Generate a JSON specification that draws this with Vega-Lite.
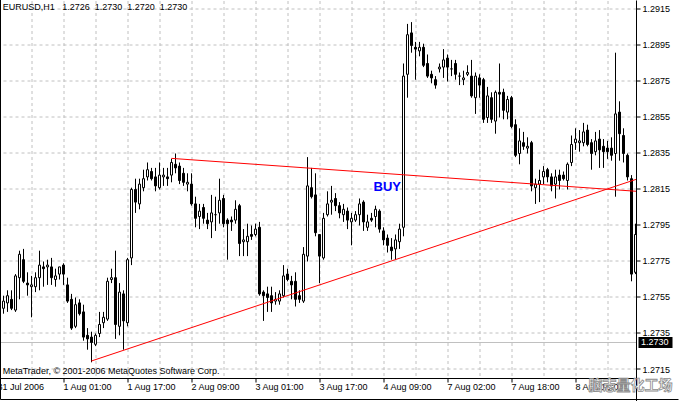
{
  "$schema": "https://vega.github.io/schema/vega-lite/v6.json",
  "width": 635.5,
  "height": 377.5,
  "autosize": {"type": "none"},
  "padding": {"left": 1, "top": 1, "right": 42.5, "bottom": 22.5},
  "background": "white",
  "config": {
    "view": {"stroke": null},
    "font": "Liberation Sans",
    "axis": {
      "labelFont": "Liberation Sans",
      "labelFontSize": 9,
      "labelColor": "black",
      "labelOverlap": false,
      "domainColor": "black",
      "domainWidth": 1,
      "tickColor": "black",
      "tickWidth": 1,
      "gridColor": "#C0C0C0",
      "gridDash": [3, 3],
      "gridOpacity": 1,
      "translate": 0,
      "title": null
    }
  },
  "data": {
    "values": [
      {"i":-15,"o":1.2749,"h":1.2756,"l":1.2746,"c":1.2753},
      {"i":-14,"o":1.2752,"h":1.2759,"l":1.2747,"c":1.2756},
      {"i":-13,"o":1.2754,"h":1.2759,"l":1.2748,"c":1.2749},
      {"i":-12,"o":1.2748,"h":1.2768,"l":1.2747,"c":1.2767},
      {"i":-11,"o":1.2766,"h":1.2781,"l":1.2754,"c":1.2779},
      {"i":-10,"o":1.2776,"h":1.2782,"l":1.2763,"c":1.2764},
      {"i":-9,"o":1.2763,"h":1.2769,"l":1.2756,"c":1.2762},
      {"i":-8,"o":1.2761,"h":1.2767,"l":1.2744,"c":1.2762},
      {"i":-7,"o":1.2761,"h":1.2769,"l":1.2758,"c":1.2766},
      {"i":-6,"o":1.2766,"h":1.2781,"l":1.2759,"c":1.2773},
      {"i":-5,"o":1.2772,"h":1.2775,"l":1.2761,"c":1.2771},
      {"i":-4,"o":1.2772,"h":1.2776,"l":1.2762,"c":1.2773},
      {"i":-3,"o":1.2772,"h":1.2777,"l":1.2762,"c":1.2766},
      {"i":-2,"o":1.2765,"h":1.2771,"l":1.2761,"c":1.2767},
      {"i":-1,"o":1.2768,"h":1.2772,"l":1.2765,"c":1.2772},
      {"i":0,"o":1.2773,"h":1.2774,"l":1.2762,"c":1.2768},
      {"i":1,"o":1.2762,"h":1.2766,"l":1.2752,"c":1.2753},
      {"i":2,"o":1.2754,"h":1.2757,"l":1.2737,"c":1.2738},
      {"i":3,"o":1.2739,"h":1.2755,"l":1.2738,"c":1.2751},
      {"i":4,"o":1.2752,"h":1.2754,"l":1.2745,"c":1.2746},
      {"i":5,"o":1.2747,"h":1.2751,"l":1.2731,"c":1.2733},
      {"i":6,"o":1.2734,"h":1.2738,"l":1.2726,"c":1.2732},
      {"i":7,"o":1.2733,"h":1.2736,"l":1.2719,"c":1.2730},
      {"i":8,"o":1.2729,"h":1.2735,"l":1.2728,"c":1.2734},
      {"i":9,"o":1.2735,"h":1.2747,"l":1.2733,"c":1.2740},
      {"i":10,"o":1.2741,"h":1.2747,"l":1.2738,"c":1.2744},
      {"i":11,"o":1.2743,"h":1.2766,"l":1.2742,"c":1.2764},
      {"i":12,"o":1.2765,"h":1.2771,"l":1.2763,"c":1.2766},
      {"i":13,"o":1.2766,"h":1.2781,"l":1.2732,"c":1.2740},
      {"i":14,"o":1.2739,"h":1.2763,"l":1.2734,"c":1.2758},
      {"i":15,"o":1.2757,"h":1.2759,"l":1.2726,"c":1.2742},
      {"i":16,"o":1.2741,"h":1.2777,"l":1.2739,"c":1.2776},
      {"i":17,"o":1.2777,"h":1.2816,"l":1.2773,"c":1.2815},
      {"i":18,"o":1.2815,"h":1.2821,"l":1.2802,"c":1.2808},
      {"i":19,"o":1.2807,"h":1.2821,"l":1.2804,"c":1.2818},
      {"i":20,"o":1.2816,"h":1.2826,"l":1.2814,"c":1.2821},
      {"i":21,"o":1.2822,"h":1.2830,"l":1.2820,"c":1.2826},
      {"i":22,"o":1.2825,"h":1.2827,"l":1.2820,"c":1.2821},
      {"i":23,"o":1.2822,"h":1.2827,"l":1.2814,"c":1.2817},
      {"i":24,"o":1.2816,"h":1.2830,"l":1.2815,"c":1.2823},
      {"i":25,"o":1.2822,"h":1.2827,"l":1.2817,"c":1.2823},
      {"i":26,"o":1.2822,"h":1.2827,"l":1.2817,"c":1.2821},
      {"i":27,"o":1.2823,"h":1.2832,"l":1.2819,"c":1.2830},
      {"i":28,"o":1.2829,"h":1.2835,"l":1.2824,"c":1.2827},
      {"i":29,"o":1.2828,"h":1.2830,"l":1.2818,"c":1.2820},
      {"i":30,"o":1.2824,"h":1.2827,"l":1.2817,"c":1.2819},
      {"i":31,"o":1.2818,"h":1.2824,"l":1.2814,"c":1.2819},
      {"i":32,"o":1.2818,"h":1.2824,"l":1.2806,"c":1.2807},
      {"i":33,"o":1.2807,"h":1.2811,"l":1.2794,"c":1.2799},
      {"i":34,"o":1.2800,"h":1.2807,"l":1.2793,"c":1.2803},
      {"i":35,"o":1.2805,"h":1.2807,"l":1.2796,"c":1.2799},
      {"i":36,"o":1.2798,"h":1.2802,"l":1.2793,"c":1.2796},
      {"i":37,"o":1.2797,"h":1.2812,"l":1.2788,"c":1.2802},
      {"i":38,"o":1.2801,"h":1.2811,"l":1.2792,"c":1.2801},
      {"i":39,"o":1.2802,"h":1.2821,"l":1.2796,"c":1.2809},
      {"i":40,"o":1.2810,"h":1.2812,"l":1.2794,"c":1.2796},
      {"i":41,"o":1.2798,"h":1.2799,"l":1.2776,"c":1.2796},
      {"i":42,"o":1.2798,"h":1.2800,"l":1.2792,"c":1.2797},
      {"i":43,"o":1.2798,"h":1.2809,"l":1.2796,"c":1.2804},
      {"i":44,"o":1.2806,"h":1.2807,"l":1.2778,"c":1.2785},
      {"i":45,"o":1.2786,"h":1.2793,"l":1.2778,"c":1.2787},
      {"i":46,"o":1.2786,"h":1.2796,"l":1.2778,"c":1.2789},
      {"i":47,"o":1.2790,"h":1.2795,"l":1.2787,"c":1.2789},
      {"i":48,"o":1.2790,"h":1.2796,"l":1.2789,"c":1.2793},
      {"i":49,"o":1.2794,"h":1.2797,"l":1.2756,"c":1.2757},
      {"i":50,"o":1.2758,"h":1.2759,"l":1.2742,"c":1.2756},
      {"i":51,"o":1.2757,"h":1.2761,"l":1.2747,"c":1.2755},
      {"i":52,"o":1.2756,"h":1.2761,"l":1.2747,"c":1.2752},
      {"i":53,"o":1.2753,"h":1.2758,"l":1.2751,"c":1.2754},
      {"i":54,"o":1.2753,"h":1.2759,"l":1.2751,"c":1.2757},
      {"i":55,"o":1.2756,"h":1.2773,"l":1.2755,"c":1.2767},
      {"i":56,"o":1.2768,"h":1.2771,"l":1.2764,"c":1.2765},
      {"i":57,"o":1.2764,"h":1.2767,"l":1.2754,"c":1.2762},
      {"i":58,"o":1.2764,"h":1.2769,"l":1.2750,"c":1.2754},
      {"i":59,"o":1.2756,"h":1.2759,"l":1.2752,"c":1.2754},
      {"i":60,"o":1.2753,"h":1.2783,"l":1.2752,"c":1.2779},
      {"i":61,"o":1.2778,"h":1.2833,"l":1.2775,"c":1.2817},
      {"i":62,"o":1.2816,"h":1.2827,"l":1.2810,"c":1.2811},
      {"i":63,"o":1.2812,"h":1.2824,"l":1.2789,"c":1.2791},
      {"i":64,"o":1.2790,"h":1.2790,"l":1.2763,"c":1.2778},
      {"i":65,"o":1.2777,"h":1.2802,"l":1.2776,"c":1.2799},
      {"i":66,"o":1.2801,"h":1.2814,"l":1.2800,"c":1.2807},
      {"i":67,"o":1.2808,"h":1.2817,"l":1.2801,"c":1.2809},
      {"i":68,"o":1.2810,"h":1.2813,"l":1.2803,"c":1.2806},
      {"i":69,"o":1.2806,"h":1.2808,"l":1.2799,"c":1.2802},
      {"i":70,"o":1.2801,"h":1.2807,"l":1.2797,"c":1.2804},
      {"i":71,"o":1.2803,"h":1.2805,"l":1.2793,"c":1.2798},
      {"i":72,"o":1.2797,"h":1.2802,"l":1.2784,"c":1.2799},
      {"i":73,"o":1.2798,"h":1.2803,"l":1.2797,"c":1.2801},
      {"i":74,"o":1.2801,"h":1.2810,"l":1.2795,"c":1.2807},
      {"i":75,"o":1.2808,"h":1.2809,"l":1.2792,"c":1.2797},
      {"i":76,"o":1.2794,"h":1.2801,"l":1.2792,"c":1.2797},
      {"i":77,"o":1.2799,"h":1.2802,"l":1.2797,"c":1.2798},
      {"i":78,"o":1.2800,"h":1.2806,"l":1.2794,"c":1.2804},
      {"i":79,"o":1.2803,"h":1.2804,"l":1.2791,"c":1.2793},
      {"i":80,"o":1.2792,"h":1.2794,"l":1.2784,"c":1.2787},
      {"i":81,"o":1.2788,"h":1.2790,"l":1.2780,"c":1.2784},
      {"i":82,"o":1.2783,"h":1.2788,"l":1.2776,"c":1.2781},
      {"i":83,"o":1.2782,"h":1.2790,"l":1.2776,"c":1.2787},
      {"i":84,"o":1.2786,"h":1.2796,"l":1.2782,"c":1.2793},
      {"i":85,"o":1.2794,"h":1.2885,"l":1.2789,"c":1.2878},
      {"i":86,"o":1.2879,"h":1.2907,"l":1.2866,"c":1.2901},
      {"i":87,"o":1.2902,"h":1.2908,"l":1.2891,"c":1.2895},
      {"i":88,"o":1.2894,"h":1.2897,"l":1.2876,"c":1.2893},
      {"i":89,"o":1.2892,"h":1.2897,"l":1.2889,"c":1.2894},
      {"i":90,"o":1.2894,"h":1.2896,"l":1.2883,"c":1.2884},
      {"i":91,"o":1.2885,"h":1.2890,"l":1.2877,"c":1.2878},
      {"i":92,"o":1.2879,"h":1.2881,"l":1.2874,"c":1.2877},
      {"i":93,"o":1.2876,"h":1.2878,"l":1.2871,"c":1.2873},
      {"i":94,"o":1.2882,"h":1.2885,"l":1.2880,"c":1.2883},
      {"i":95,"o":1.2883,"h":1.2893,"l":1.2877,"c":1.2887},
      {"i":96,"o":1.2888,"h":1.2890,"l":1.2875,"c":1.2883},
      {"i":97,"o":1.2882,"h":1.2887,"l":1.2878,"c":1.2882},
      {"i":98,"o":1.2885,"h":1.2887,"l":1.2876,"c":1.2879},
      {"i":99,"o":1.2878,"h":1.2880,"l":1.2873,"c":1.2878},
      {"i":100,"o":1.2876,"h":1.2881,"l":1.2873,"c":1.2877},
      {"i":101,"o":1.2879,"h":1.2884,"l":1.2878,"c":1.2880},
      {"i":102,"o":1.2878,"h":1.2887,"l":1.2866,"c":1.2867},
      {"i":103,"o":1.2866,"h":1.2880,"l":1.2857,"c":1.2878},
      {"i":104,"o":1.2877,"h":1.2879,"l":1.2866,"c":1.2873},
      {"i":105,"o":1.2876,"h":1.2877,"l":1.2852,"c":1.2854},
      {"i":106,"o":1.2855,"h":1.2872,"l":1.2852,"c":1.2867},
      {"i":107,"o":1.2866,"h":1.2869,"l":1.2852,"c":1.2854},
      {"i":108,"o":1.2853,"h":1.2870,"l":1.2846,"c":1.2869},
      {"i":109,"o":1.2869,"h":1.2885,"l":1.2855,"c":1.2868},
      {"i":110,"o":1.2869,"h":1.2871,"l":1.2854,"c":1.2859},
      {"i":111,"o":1.2858,"h":1.2867,"l":1.2854,"c":1.2865},
      {"i":112,"o":1.2866,"h":1.2867,"l":1.2849,"c":1.2850},
      {"i":113,"o":1.2851,"h":1.2854,"l":1.2833,"c":1.2834},
      {"i":114,"o":1.2835,"h":1.2849,"l":1.2829,"c":1.2842},
      {"i":115,"o":1.2841,"h":1.2847,"l":1.2837,"c":1.2839},
      {"i":116,"o":1.2838,"h":1.2844,"l":1.2835,"c":1.2839},
      {"i":117,"o":1.2841,"h":1.2842,"l":1.2814,"c":1.2817},
      {"i":118,"o":1.2816,"h":1.2821,"l":1.2807,"c":1.2818},
      {"i":119,"o":1.2818,"h":1.2826,"l":1.2808,"c":1.2820},
      {"i":120,"o":1.2822,"h":1.2828,"l":1.2818,"c":1.2825},
      {"i":121,"o":1.2826,"h":1.2827,"l":1.2819,"c":1.2822},
      {"i":122,"o":1.2822,"h":1.2824,"l":1.2814,"c":1.2817},
      {"i":123,"o":1.2818,"h":1.2826,"l":1.2810,"c":1.2822},
      {"i":124,"o":1.2823,"h":1.2826,"l":1.2815,"c":1.2820},
      {"i":125,"o":1.2823,"h":1.2825,"l":1.2820,"c":1.2821},
      {"i":126,"o":1.2820,"h":1.2830,"l":1.2815,"c":1.2829},
      {"i":127,"o":1.2830,"h":1.2845,"l":1.2828,"c":1.2840},
      {"i":128,"o":1.2841,"h":1.2849,"l":1.2837,"c":1.2843},
      {"i":129,"o":1.2841,"h":1.2848,"l":1.2836,"c":1.2842},
      {"i":130,"o":1.2841,"h":1.2852,"l":1.2839,"c":1.2847},
      {"i":131,"o":1.2848,"h":1.2851,"l":1.2839,"c":1.2840},
      {"i":132,"o":1.2841,"h":1.2843,"l":1.2826,"c":1.2835},
      {"i":133,"o":1.2836,"h":1.2847,"l":1.2834,"c":1.2842},
      {"i":134,"o":1.2843,"h":1.2848,"l":1.2827,"c":1.2837},
      {"i":135,"o":1.2839,"h":1.2843,"l":1.2827,"c":1.2836},
      {"i":136,"o":1.2838,"h":1.2842,"l":1.2832,"c":1.2836},
      {"i":137,"o":1.2838,"h":1.2844,"l":1.2831,"c":1.2834},
      {"i":138,"o":1.2835,"h":1.2891,"l":1.2811,"c":1.2857},
      {"i":139,"o":1.2858,"h":1.2864,"l":1.2831,"c":1.2846},
      {"i":140,"o":1.2845,"h":1.2849,"l":1.2830,"c":1.2835},
      {"i":141,"o":1.2834,"h":1.2835,"l":1.2820,"c":1.2822},
      {"i":142,"o":1.2821,"h":1.2823,"l":1.2764,"c":1.2768},
      {"i":143,"o":1.2769,"h":1.2796,"l":1.2768,"c":1.2790}
    ]
  },
  "layer": [
    {
      "data": {"values": [{"bid": 1.2730}]},
      "mark": {"type": "rule", "color": "#C0C0C0", "strokeWidth": 1},
      "encoding": {
        "y": {
          "field": "bid", "type": "quantitative",
          "scale": {"domain": [1.2710, 1.2919722], "nice": false, "zero": false, "padding": 0},
          "axis": {
            "orient": "right",
            "values": [1.2715, 1.2735, 1.2755, 1.2775, 1.2795, 1.2815, 1.2835, 1.2855, 1.2875, 1.2895, 1.2915],
            "tickCount": 100,
            "format": ".4f",
            "grid": true,
            "tickSize": 4,
            "labelPadding": 2,
            "labelAlign": "left",
            "labelBaseline": "middle",
            "labelOverlap": false,
            "labelBound": false,
            "labelFlush": false
          }
        }
      }
    },
    {
      "mark": {"type": "rule", "color": "black", "strokeWidth": 1},
      "encoding": {
        "x": {
          "field": "i", "type": "quantitative",
          "scale": {"domain": [-15.625, 143.25], "nice": false, "zero": false, "padding": 0},
          "axis": {
            "orient": "bottom",
            "values": [-15.625, -8, 0, 8, 16, 24, 32, 40, 48, 56, 64, 72, 80, 88, 96, 104, 112, 120, 128, 136],
            "tickCount": 100,
            "grid": true,
            "gridOpacity": {"condition": {"test": "datum.value < -15", "value": 0}, "value": 1},
            "labelExpr": "datum.value < -15 ? '31 Jul 2006' : datum.value == 0 ? '1 Aug 01:00' : datum.value == 16 ? '1 Aug 17:00' : datum.value == 32 ? '2 Aug 09:00' : datum.value == 48 ? '3 Aug 01:00' : datum.value == 64 ? '3 Aug 17:00' : datum.value == 80 ? '4 Aug 09:00' : datum.value == 96 ? '7 Aug 02:00' : datum.value == 112 ? '7 Aug 18:00' : datum.value == 128 ? '8 Aug 10:00' : ''",
            "labelAlign": "left",
            "labelBaseline": "top",
            "labelPadding": 0,
            "labelOffset": {"condition": {"test": "datum.value < -15", "value": -3.5}, "value": 0},
            "tickSize": 4,
            "tickOpacity": {"condition": {"test": "datum.value % 16 == 0", "value": 1}, "value": 0},
            "labelOverlap": false,
            "labelBound": false,
            "labelFlush": false
          }
        },
        "y": {"field": "l", "type": "quantitative"},
        "y2": {"field": "h"}
      }
    },
    {
      "mark": {"type": "bar", "orient": "vertical", "width": 2, "stroke": "black", "strokeWidth": 1},
      "encoding": {
        "x": {"field": "i", "type": "quantitative"},
        "y": {"field": "o", "type": "quantitative"},
        "y2": {"field": "c"},
        "fill": {"condition": {"test": "datum.c < datum.o", "value": "black"}, "value": "white"}
      }
    },
    {
      "data": {"values": [
        {"line": "upper", "i": 26.95, "p": 1.28323},
        {"line": "upper", "i": 143.25, "p": 1.28140},
        {"line": "lower", "i": 6.95, "p": 1.27197},
        {"line": "lower", "i": 143.25, "p": 1.28207}
      ]},
      "mark": {"type": "line", "color": "#FF0000", "strokeWidth": 1},
      "encoding": {
        "x": {"field": "i", "type": "quantitative"},
        "y": {"field": "p", "type": "quantitative"},
        "detail": {"field": "line"}
      }
    },
    {
      "data": {"values": [{"label": "BUY", "i": 80.95, "p": 1.281417}]},
      "mark": {"type": "text", "align": "center", "baseline": "alphabetic", "font": "Liberation Sans", "fontSize": 13, "fontWeight": "bold", "color": "#0000FF"},
      "encoding": {
        "x": {"field": "i", "type": "quantitative"},
        "y": {"field": "p", "type": "quantitative"},
        "text": {"field": "label"}
      }
    },
    {
      "data": {"values": [
        {"label": "EURUSD,H1\u00a0\u00a0\u00a01.2726\u00a0\u00a01.2730\u00a0\u00a01.2720\u00a0\u00a01.2730", "i": -15.2, "p": 1.291456},
        {"label": "MetaTrader, © 2001-2006 MetaQuotes Software Corp.", "i": -15.2, "p": 1.27125}
      ]},
      "mark": {"type": "text", "align": "left", "baseline": "alphabetic", "font": "Liberation Sans", "fontSize": 9, "color": "black"},
      "encoding": {
        "x": {"field": "i", "type": "quantitative"},
        "y": {"field": "p", "type": "quantitative"},
        "text": {"field": "label"}
      }
    },
    {
      "data": {"values": [{"last": 1.2730}]},
      "mark": {"type": "rect", "color": "black"},
      "encoding": {
        "x": {"datum": 143.75},
        "x2": {"datum": 152.25},
        "y": {"datum": 1.273305},
        "y2": {"datum": 1.272694}
      }
    },
    {
      "data": {"values": [{"last": 1.2730}]},
      "mark": {"type": "text", "align": "left", "baseline": "middle", "font": "Liberation Sans", "fontSize": 9, "color": "white"},
      "encoding": {
        "x": {"datum": 144.4},
        "y": {"field": "last", "type": "quantitative"},
        "text": {"field": "last", "type": "quantitative", "format": ".4f"}
      }
    },
    {
      "data": {"values": [{"edge": 143.25}]},
      "mark": {"type": "rule", "color": "black", "strokeWidth": 1},
      "encoding": {
        "x": {"field": "edge", "type": "quantitative"},
        "y": {"datum": 1.2920},
        "y2": {"datum": 1.26975}
      }
    },
    {
      "data": {"values": [{"side": "left"}]},
      "mark": {"type": "rule", "color": "black", "strokeWidth": 1},
      "encoding": {
        "x": {"datum": -15.75},
        "y": {"datum": 1.29203},
        "y2": {"datum": 1.26983}
      }
    },
    {
      "data": {"values": [{"side": "bottom"}]},
      "mark": {"type": "rule", "color": "black", "strokeWidth": 1},
      "encoding": {
        "x": {"datum": -15.75},
        "x2": {"datum": 153.75},
        "y": {"datum": 1.269833}
      }
    },
    {
      "data": {"values": [{"label": "脑志量化工场", "i": 141.75, "p": 1.27061}]},
      "mark": {"type": "text", "align": "center", "baseline": "middle", "font": "Noto Sans CJK SC", "fontSize": 14, "fontWeight": "bold", "fill": "white", "stroke": "#8C8C8C", "strokeWidth": 0.8},
      "encoding": {
        "x": {"field": "i", "type": "quantitative"},
        "y": {"field": "p", "type": "quantitative"},
        "text": {"field": "label"}
      }
    }
  ]
}
